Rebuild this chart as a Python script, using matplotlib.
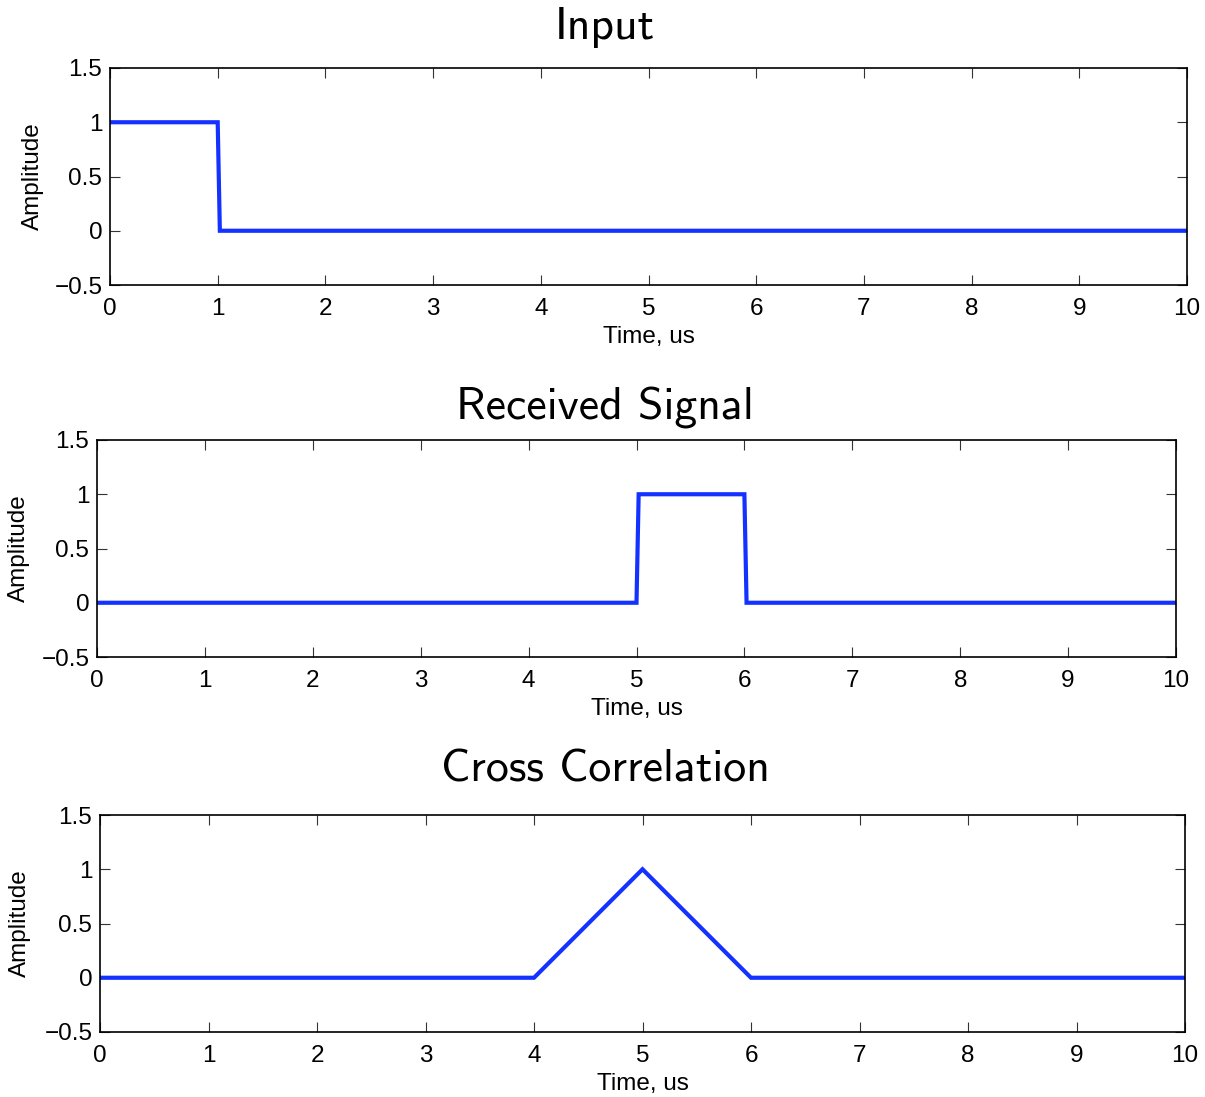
import matplotlib
matplotlib.use("Agg")
import matplotlib.pyplot as plt

# signals (time in us)
input_t = [0, 1, 1.02, 10]
input_y = [1, 1, 0, 0]
recv_t = [0, 5, 5.02, 6, 6.02, 10]
recv_y = [0, 0, 1, 1, 0, 0]
xcorr_t = [0, 4, 5, 6, 10]
xcorr_y = [0, 0, 1, 0, 0]

titles = ["Input", "Received Signal", "Cross Correlation"]
xticks = list(range(0, 11))
yticks = [-0.5, 0, 0.5, 1, 1.5]
ytick_labels = ["\u22120.5", "0", "0.5", "1", "1.5"]

W, H = 1205, 1097
# axes boxes in pixels: left, top, right, bottom
boxes = [(110, 68, 1187, 285), (97, 440, 1176, 657), (100, 815, 1185, 1032)]
title_y = [28, 408, 770]
ylabel_x = [33, 19, 20]

LINE = "#1432ff"
TICK_FONT = "Liberation Sans"
FS = 17.5

fig = plt.figure(figsize=(W / 100, H / 100), dpi=100)
series = [(input_t, input_y), (recv_t, recv_y), (xcorr_t, xcorr_y)]

for (l, t, r, b), (xs, ys), title, ty, lx in zip(boxes, series, titles, title_y, ylabel_x):
    ax = fig.add_axes([l / W, 1 - b / H, (r - l) / W, (b - t) / H])
    ax.plot(xs, ys, color=LINE, lw=3.0, solid_joinstyle="miter")
    ax.set_xlim(0, 10)
    ax.set_ylim(-0.5, 1.5)
    ax.set_xticks(xticks)
    ax.set_yticks(yticks, ytick_labels)
    ax.tick_params(direction="in", length=7, width=0.8, top=True, right=True,
                   labelsize=FS, color="#333333")
    ax.tick_params(axis="x", pad=9.5)
    ax.tick_params(axis="y", pad=5.5)
    for lab in ax.get_xticklabels() + ax.get_yticklabels():
        lab.set_fontfamily(TICK_FONT)
    for sp in ax.spines.values():
        sp.set_linewidth(1.2)
    ax.set_xlabel("Time, us", fontsize=FS, fontfamily=TICK_FONT, labelpad=4)
    ax.set_ylabel("Amplitude", fontsize=FS, fontfamily=TICK_FONT)
    ax.yaxis.set_label_coords((lx - l) / (r - l), 0.5)
    ax.yaxis.label.set_verticalalignment("center")
    fig.text(605 / W, 1 - ty / H, title, ha="center", va="center",
             fontsize=33, fontfamily="cmss10")

fig.savefig("out.png", dpi=100)
